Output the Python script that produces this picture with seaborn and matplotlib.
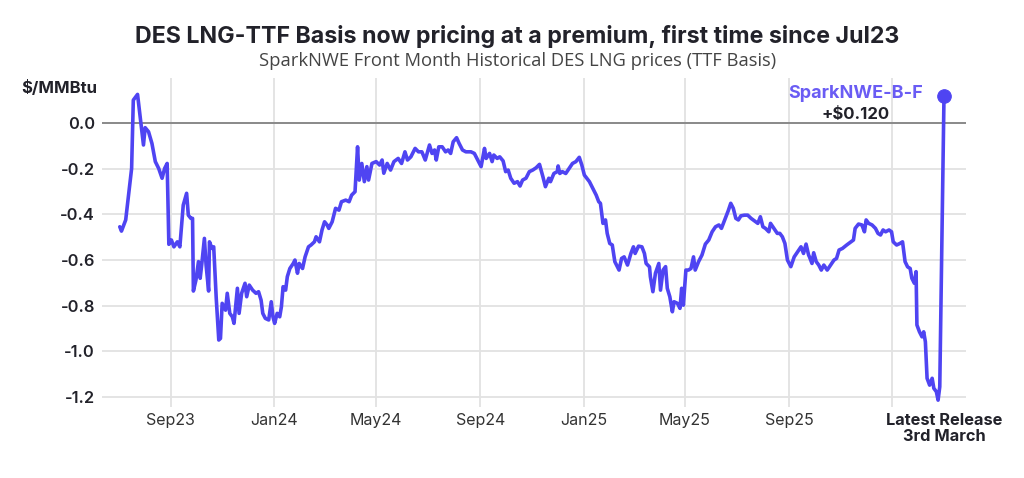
import matplotlib
matplotlib.use("Agg")
import matplotlib.pyplot as plt
import pandas as pd
import seaborn as sns

# SparkNWE front month DES LNG basis to TTF ($/MMBtu)
dates = [
    "2023-07-03", "2023-07-05", "2023-07-10", "2023-07-17", "2023-07-19", "2023-07-24",
    "2023-07-28", "2023-07-31", "2023-08-02", "2023-08-06", "2023-08-10", "2023-08-14",
    "2023-08-18", "2023-08-22", "2023-08-25", "2023-08-28", "2023-08-30", "2023-09-02",
    "2023-09-05", "2023-09-09", "2023-09-12", "2023-09-16", "2023-09-20", "2023-09-22",
    "2023-09-25", "2023-09-27", "2023-09-28", "2023-10-01", "2023-10-04", "2023-10-06",
    "2023-10-08", "2023-10-11", "2023-10-13", "2023-10-16", "2023-10-17", "2023-10-20",
    "2023-10-22", "2023-10-25", "2023-10-28", "2023-10-30",
    "2023-11-01", "2023-11-05", "2023-11-07", "2023-11-10", "2023-11-13", "2023-11-15",
    "2023-11-19", "2023-11-21", "2023-11-24", "2023-11-28", "2023-11-30", "2023-12-03",
    "2023-12-07", "2023-12-11", "2023-12-14", "2023-12-17", "2023-12-19", "2023-12-22",
    "2023-12-26", "2023-12-29", "2023-12-31", "2024-01-02", "2024-01-05", "2024-01-08",
    "2024-01-10", "2024-01-12", "2024-01-15", "2024-01-17", "2024-01-20", "2024-01-24",
    "2024-01-26", "2024-01-29", "2024-01-31", "2024-02-04", "2024-02-07", "2024-02-11",
    "2024-02-14", "2024-02-18", "2024-02-20", "2024-02-24", "2024-02-27", "2024-03-01",
    "2024-03-04", "2024-03-06", "2024-03-10",
    "2024-03-14", "2024-03-18", "2024-03-21", "2024-03-26", "2024-03-30", "2024-04-02",
    "2024-04-06", "2024-04-09", "2024-04-11", "2024-04-14", "2024-04-17", "2024-04-20",
    "2024-04-22", "2024-04-26", "2024-05-01", "2024-05-05", "2024-05-08", "2024-05-10",
    "2024-05-14", "2024-05-18", "2024-05-22", "2024-05-27", "2024-05-31", "2024-06-04",
    "2024-06-07", "2024-06-11", "2024-06-16", "2024-06-20", "2024-06-24", "2024-06-28",
    "2024-07-03", "2024-07-06", "2024-07-09", "2024-07-11", "2024-07-14", "2024-07-18",
    "2024-07-22", "2024-07-25", "2024-07-28", "2024-07-31", "2024-08-04", "2024-08-07",
    "2024-08-11", "2024-08-15", "2024-08-21", "2024-08-25", "2024-08-29", "2024-09-02",
    "2024-09-06", "2024-09-08", "2024-09-12", "2024-09-15", "2024-09-17", "2024-09-21",
    "2024-09-24", "2024-09-28", "2024-10-01", "2024-10-04", "2024-10-07", "2024-10-11",
    "2024-10-15", "2024-10-18", "2024-10-21", "2024-10-25", "2024-10-29", "2024-11-02",
    "2024-11-06", "2024-11-10", "2024-11-14", "2024-11-17", "2024-11-21", "2024-11-23",
    "2024-11-27", "2024-12-01",
    "2024-12-02", "2024-12-04", "2024-12-07", "2024-12-11", "2024-12-15", "2024-12-19",
    "2024-12-23", "2024-12-27", "2024-12-30", "2025-01-02", "2025-01-08", "2025-01-12",
    "2025-01-16", "2025-01-19", "2025-01-21", "2025-01-24", "2025-01-27", "2025-01-29",
    "2025-02-01", "2025-02-04", "2025-02-07", "2025-02-12", "2025-02-15", "2025-02-18",
    "2025-02-22", "2025-02-26", "2025-03-01", "2025-03-03", "2025-03-07", "2025-03-11",
    "2025-03-14", "2025-03-16", "2025-03-20", "2025-03-21", "2025-03-24", "2025-03-27",
    "2025-03-31", "2025-04-02", "2025-04-05",
    "2025-04-08", "2025-04-10", "2025-04-13", "2025-04-16", "2025-04-18", "2025-04-22",
    "2025-04-25", "2025-04-27", "2025-04-29", "2025-05-02", "2025-05-05", "2025-05-08",
    "2025-05-11", "2025-05-13", "2025-05-17", "2025-05-21", "2025-05-25", "2025-05-29",
    "2025-06-02", "2025-06-06", "2025-06-10", "2025-06-13", "2025-06-16", "2025-06-19",
    "2025-06-21", "2025-06-24", "2025-06-27", "2025-06-30", "2025-07-03", "2025-07-06",
    "2025-07-10", "2025-07-14", "2025-07-18", "2025-07-22", "2025-07-26", "2025-07-29",
    "2025-08-01", "2025-08-04", "2025-08-08", "2025-08-10", "2025-08-14", "2025-08-18",
    "2025-08-21", "2025-08-24", "2025-08-27", "2025-08-30", "2025-09-03", "2025-09-07",
    "2025-09-11", "2025-09-15", "2025-09-18", "2025-09-21", "2025-09-24", "2025-09-25",
    "2025-09-28", "2025-09-30", "2025-10-03", "2025-10-06", "2025-10-09", "2025-10-12",
    "2025-10-16", "2025-10-20", "2025-10-24", "2025-10-27", "2025-10-30", "2025-11-03",
    "2025-11-08", "2025-11-13", "2025-11-16", "2025-11-18", "2025-11-22", "2025-11-26",
    "2025-11-29", "2025-12-01", "2025-12-04", "2025-12-08", "2025-12-12", "2025-12-15",
    "2025-12-18", "2025-12-21", "2025-12-24", "2025-12-28", "2025-12-31",
    "2026-01-02", "2026-01-06", "2026-01-10", "2026-01-13", "2026-01-16", "2026-01-19",
    "2026-01-22", "2026-01-24", "2026-01-27", "2026-01-29", "2026-01-30", "2026-02-02",
    "2026-02-05", "2026-02-07", "2026-02-09", "2026-02-11", "2026-02-14", "2026-02-17",
    "2026-02-19", "2026-02-22", "2026-02-24", "2026-02-26", "2026-03-03",
]
basis = [
    -0.454, -0.473, -0.424, -0.198, 0.102, 0.127,
    0.000, -0.095, -0.019, -0.037, -0.088, -0.168,
    -0.198, -0.241, -0.198, -0.176, -0.531, -0.512,
    -0.542, -0.520, -0.542, -0.359, -0.307, -0.403,
    -0.417, -0.417, -0.736, -0.688, -0.607, -0.680,
    -0.615, -0.505, -0.622, -0.736, -0.520, -0.549,
    -0.542, -0.768, -0.951, -0.944,
    -0.790, -0.820, -0.746, -0.834, -0.849, -0.878,
    -0.724, -0.834, -0.746, -0.702, -0.761, -0.710,
    -0.732, -0.746, -0.739, -0.776, -0.834, -0.856,
    -0.863, -0.783, -0.849, -0.878, -0.834, -0.849,
    -0.805, -0.717, -0.732, -0.673, -0.637, -0.615,
    -0.600, -0.658, -0.615, -0.637, -0.586, -0.542,
    -0.534, -0.520, -0.498, -0.520, -0.468, -0.432,
    -0.446, -0.461, -0.432,
    -0.373, -0.381, -0.344, -0.337, -0.344, -0.315,
    -0.300, -0.103, -0.249, -0.176, -0.256, -0.190,
    -0.249, -0.176, -0.168, -0.183, -0.161, -0.219,
    -0.176, -0.205, -0.168, -0.154, -0.176, -0.125,
    -0.161, -0.147, -0.110, -0.125, -0.125, -0.161,
    -0.095, -0.132, -0.117, -0.161, -0.103, -0.103,
    -0.125, -0.117, -0.132, -0.081, -0.063, -0.088,
    -0.117, -0.125, -0.125, -0.132, -0.161, -0.190,
    -0.110, -0.154, -0.132, -0.168, -0.139, -0.154,
    -0.147, -0.165, -0.212, -0.205, -0.241, -0.263,
    -0.256, -0.275, -0.249, -0.241, -0.212, -0.205,
    -0.195, -0.180, -0.234, -0.278, -0.241, -0.256,
    -0.220, -0.212,
    -0.187, -0.220, -0.212, -0.220, -0.198, -0.176,
    -0.168, -0.149, -0.183, -0.227, -0.256, -0.285,
    -0.315, -0.344, -0.351, -0.439, -0.424, -0.483,
    -0.527, -0.534, -0.607, -0.644, -0.593, -0.586,
    -0.622, -0.571, -0.542, -0.571, -0.539, -0.542,
    -0.571, -0.615, -0.630, -0.673, -0.739, -0.658,
    -0.615, -0.732, -0.644,
    -0.629, -0.724, -0.761, -0.827, -0.783, -0.790,
    -0.812, -0.724, -0.798, -0.644, -0.644, -0.637,
    -0.586, -0.644, -0.607, -0.578, -0.530, -0.512,
    -0.476, -0.454, -0.446, -0.461, -0.432, -0.403,
    -0.384, -0.351, -0.373, -0.417, -0.424, -0.406,
    -0.403, -0.403, -0.417, -0.428, -0.439, -0.410,
    -0.454, -0.461, -0.476, -0.439, -0.461, -0.483,
    -0.483, -0.498, -0.527, -0.600, -0.629, -0.586,
    -0.564, -0.542, -0.571, -0.530, -0.578, -0.586,
    -0.615, -0.568, -0.607, -0.622, -0.644, -0.622,
    -0.644, -0.622, -0.600, -0.593, -0.556, -0.549,
    -0.534, -0.520, -0.512, -0.461, -0.442, -0.446,
    -0.476, -0.424, -0.439, -0.446, -0.461, -0.483,
    -0.490, -0.468, -0.476, -0.468, -0.476,
    -0.520, -0.534, -0.527, -0.520, -0.607, -0.630,
    -0.637, -0.680, -0.702, -0.651, -0.885, -0.915,
    -0.937, -0.915, -0.959, -1.119, -1.149, -1.119,
    -1.163, -1.178, -1.215, -1.156, 0.120,
]

tick_dates = ["2023-09-01", "2024-01-01", "2024-05-01", "2024-09-01",
              "2025-01-01", "2025-05-01", "2025-09-01", "2026-01-01"]
tick_labels = ["Sep23", "Jan24", "May24", "Sep24", "Jan25", "May25", "Sep25", ""]
y_ticks = [0.0, -0.2, -0.4, -0.6, -0.8, -1.0, -1.2]
latest_label = "Latest Release\n3rd March"
series_name = "SparkNWE-B-F"

LINE = "#4f44f2"
LABEL_PURPLE = "#6a5cf4"
DARK = "#22222a"

df = pd.DataFrame({"date": pd.to_datetime(dates), "basis": basis})

sns.set_theme(style="white")
plt.rcParams["font.family"] = ["Inter", "DejaVu Sans"]

fig = plt.figure(figsize=(10.24, 4.78), dpi=100)
ax = fig.add_axes([102 / 1024, 1 - 407 / 478, 864 / 1024, 329 / 478])

sns.lineplot(data=df, x="date", y="basis", color=LINE, linewidth=2.6, ax=ax, zorder=3)
last = df.iloc[[-1]]
sns.scatterplot(data=last, x="date", y="basis", color=LINE, s=95, edgecolor=LINE,
                ax=ax, zorder=4, legend=False)

ax.axhline(0, color="#8a8a8a", lw=1.4, zorder=2)
ax.set_xlim(pd.Timestamp("2023-06-12"), pd.Timestamp("2026-03-29"))
ax.set_ylim(-1.245, 0.199)

all_ticks = pd.to_datetime(tick_dates + [dates[-1]])
ax.set_xticks(all_ticks)
ax.set_xticklabels(tick_labels + [latest_label])
xt = ax.get_xticklabels()
for lab in xt[:-1]:
    lab.set_color("#333333")
    lab.set_fontsize(11.5)
xt[-1].set_fontweight("bold")
xt[-1].set_fontsize(11.8)
xt[-1].set_color(DARK)
xt[-1].set_linespacing(1.1)

ax.set_yticks(y_ticks)
ax.set_yticklabels([f"{v:.1f}" for v in y_ticks], fontsize=11.8,
                   fontweight="semibold", color=DARK)
ax.tick_params(axis="both", length=0)
ax.tick_params(axis="x", pad=4)
ax.tick_params(axis="y", pad=5)

ax.grid(True, color="#e2e2e2", lw=1.3, zorder=0)
ax.get_xgridlines()[-1].set_visible(False)
for s in ax.spines.values():
    s.set_visible(False)
ax.set_xlabel("")
ax.set_ylabel("")

# end-of-series label
end_x = df["date"].iloc[-1] - pd.Timedelta(days=105)
ax.annotate(series_name, xy=(end_x, df["basis"].iloc[-1]), xycoords="data",
            xytext=(0, 1.5), textcoords="offset points", ha="center", va="center",
            fontsize=13, fontweight="bold", color=LABEL_PURPLE)
ax.annotate(f"+${df['basis'].iloc[-1]:.3f}", xy=(end_x, df["basis"].iloc[-1]),
            xycoords="data", xytext=(0, -13), textcoords="offset points",
            ha="center", va="center", fontsize=12, fontweight="bold", color=DARK)

fig.text(97 / 1024, 1 - 88 / 478, "$/MMBtu", ha="right", va="center",
         fontsize=12, fontweight="bold", color=DARK)
fig.text(517 / 1024, 1 - 37 / 478,
         "DES LNG-TTF Basis now pricing at a premium, first time since Jul23",
         ha="center", va="center", fontsize=16.7, fontweight="bold", color=DARK)
fig.text(518 / 1024, 1 - 61 / 478,
         "SparkNWE Front Month Historical DES LNG prices (TTF Basis)",
         ha="center", va="center", fontsize=13.2, color="#444444",
         family=["Open Sans", "DejaVu Sans"])

fig.savefig("out.png", dpi=100, facecolor="white")
